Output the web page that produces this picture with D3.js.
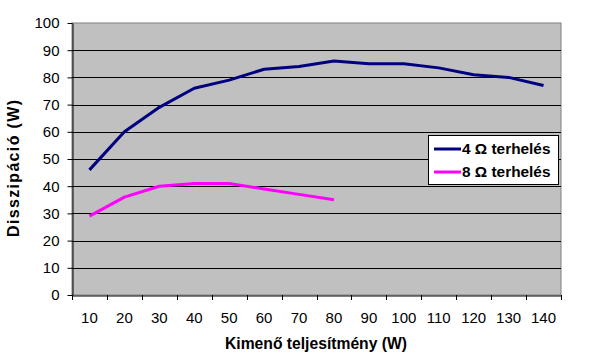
<!DOCTYPE html>
<html><head><meta charset="utf-8">
<script src="https://cdn.jsdelivr.net/npm/d3@7"></script>
<style>body{margin:0;background:#fff}svg{display:block;font-family:"Liberation Sans",Arial,sans-serif}</style>
</head><body><svg id="c" width="600" height="360"></svg>
<script>
const categories = [10,20,30,40,50,60,70,80,90,100,110,120,130,140];
const load4 = [46,60,69,76,79,83,84,86,85,85,83.5,81,80,77];
const load8 = [29,36,40,41,41,39,37,35];
const yTicks = [0,10,20,30,40,50,60,70,80,90,100];
const seriesNames = ["4 Ω terhelés","8 Ω terhelés"];
const colors = ["#000080","#FF00FF"];

const svg = d3.select("#c");
const L=72,R=561,T=23,B=295;
const x = d3.scaleBand().domain(categories).range([L,R]);
const y = d3.scaleLinear().domain([0,100]).range([B,T]);

svg.append("rect").attr("x",L).attr("y",T).attr("width",R-L).attr("height",B-T)
  .attr("fill","#C0C0C0").attr("stroke","#808080");
svg.append("g").selectAll("line").data(yTicks.filter(d=>d>0&&d<100)).join("line")
  .attr("x1",L).attr("x2",R).attr("y1",d=>Math.round(y(d))+0.5).attr("y2",d=>Math.round(y(d))+0.5)
  .attr("stroke","#000");

const yAxis = svg.append("g").attr("transform",`translate(${L+0.5},0)`)
  .call(d3.axisLeft(y).tickValues(yTicks).tickSize(5).tickPadding(8).tickSizeOuter(0));
const xAxis = svg.append("g").attr("transform",`translate(0,${B+0.5})`)
  .call(d3.axisBottom(x).tickSize(0).tickPadding(17).tickSizeOuter(0));
svg.append("g").selectAll("line").data(d3.range(categories.length+1)).join("line")
  .attr("x1",i=>Math.round(L+i*x.step())+0.5).attr("x2",i=>Math.round(L+i*x.step())+0.5)
  .attr("y1",B).attr("y2",B+5).attr("stroke","#000");
[yAxis,xAxis].forEach(g=>{g.select(".domain").attr("stroke","#000");
  g.selectAll("text").attr("font-size",15).attr("fill","#000").attr("font-family","Liberation Sans, Arial, sans-serif");
  g.selectAll(".tick line").attr("stroke","#000");});
xAxis.selectAll("text").attr("dy",null).attr("dominant-baseline",null).attr("y",27);

const line = d3.line().x((d,i)=>x(categories[i])+x.bandwidth()/2).y(d=>y(d));
[load4,load8].forEach((s,k)=>{
  svg.append("path").datum(s).attr("d",line).attr("fill","none")
    .attr("stroke",colors[k]).attr("stroke-width",3).attr("stroke-linejoin","round");
});

svg.append("text").attr("transform","translate(19,168.5) rotate(-90)").attr("text-anchor","middle")
  .attr("font-size",16).attr("font-weight","bold").attr("textLength",137).attr("lengthAdjust","spacing")
  .text("Disszipáció (W)");
svg.append("text").attr("x",316).attr("y",349).attr("text-anchor","middle")
  .attr("font-size",15.7).attr("font-weight","bold").attr("textLength",182).attr("lengthAdjust","spacing")
  .text("Kimenő teljesítmény (W)");

const lg = svg.append("g");
lg.append("rect").attr("x",428.5).attr("y",135.5).attr("width",130).attr("height",49)
  .attr("fill","#fff").attr("stroke","#000");
seriesNames.forEach((n,k)=>{
  const yy = 149+k*23;
  lg.append("line").attr("x1",434).attr("x2",461).attr("y1",yy).attr("y2",yy)
    .attr("stroke",colors[k]).attr("stroke-width",3);
  lg.append("text").attr("x",462).attr("y",yy+5).attr("font-size",15.4).attr("font-weight","bold").text(n);
});
</script></body></html>
